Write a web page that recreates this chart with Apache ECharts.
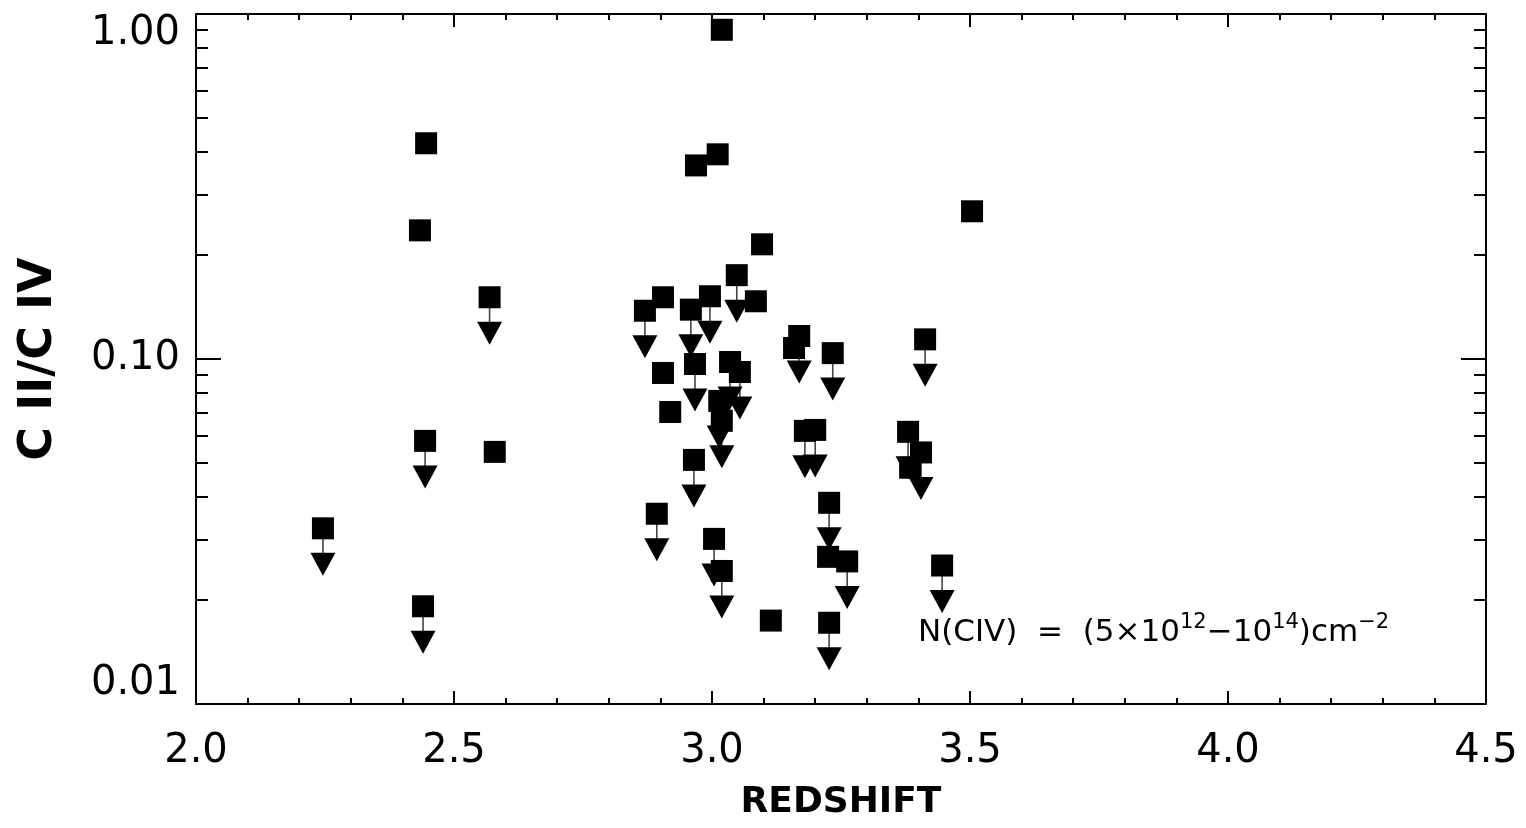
<!DOCTYPE html>
<html><head><meta charset="utf-8">
<script src="https://cdn.jsdelivr.net/npm/echarts@6/dist/echarts.min.js"></script>
<style>html,body{margin:0;padding:0;background:#fff}#chart{width:1526px;height:828px}</style>
</head><body><div id="chart"></div>
<script>
// Detections: C II / C IV ratio vs redshift
const detX = [3.019, 2.446, 3.011, 2.969, 3.504, 2.434, 3.097, 2.905, 3.085, 3.159, 2.905, 2.919, 3.384, 2.579, 3.114, 3.225];
const detY = [0.90, 0.422, 0.392, 0.364, 0.268, 0.236, 0.215, 0.151, 0.147, 0.1076, 0.0911, 0.0702, 0.0484, 0.0538, 0.01745, 0.0267];
// Upper limits
const limX = [3.048, 2.569, 2.870, 2.959, 2.996, 3.169, 3.234, 3.413, 2.967, 3.035, 3.054, 3.014, 3.019, 3.180, 3.200, 2.965, 3.380, 3.405, 2.893, 3.004, 3.019, 3.227, 3.262, 3.227, 2.444, 2.246, 2.440, 3.446];
const limY = [0.175, 0.151, 0.138, 0.139, 0.152, 0.1166, 0.104, 0.114, 0.0967, 0.098, 0.0917, 0.0756, 0.0662, 0.0619, 0.0623, 0.051, 0.0615, 0.0536, 0.0356, 0.0301, 0.0243, 0.0383, 0.0259, 0.0172, 0.0579, 0.0323, 0.0192, 0.0252];
// Axis ticks
const xMin = 2.0, xMax = 4.5, xStep = 0.5;
const yMajorTicks = [0.01, 0.1, 1];
const yMinorTicks = [0.02, 0.03, 0.04, 0.05, 0.06, 0.07, 0.08, 0.09, 0.2, 0.3, 0.4, 0.5, 0.6, 0.7, 0.8, 0.9];
const xTitle = 'REDSHIFT';
const yTitle = 'C II/C IV';
const noteParts = [['n', 'N(CIV)  =  (5×10'], ['s', '12'], ['n', '−10'], ['s', '14'], ['n', ')cm'], ['s', '−2']];

const FONT = 'DejaVu Sans';
const det = detX.map((x, i) => [x, detY[i]]);
const lim = limX.map((x, i) => [x, limY[i]]);

function yAxisBase(pos, ticks, len, showLine, showLabel) {
  return {
    type: 'log', logBase: 10, min: 0.01, max: 1, position: pos, gridIndex: 0,
    axisLine: { show: showLine, lineStyle: { color: '#000', width: 2 } },
    axisTick: { show: true, inside: true, length: len, customValues: ticks, lineStyle: { color: '#000', width: 2 } },
    axisLabel: showLabel ? {
      show: true, customValues: yMajorTicks, color: '#000', fontFamily: FONT, fontSize: 40, margin: 16,
      formatter: v => Number(v).toFixed(2),
      verticalAlignMaxLabel: 'top', verticalAlignMinLabel: 'bottom'
    } : { show: false },
    splitLine: { show: false }, minorTick: { show: false }
  };
}
function xAxisBase(pos, showLabel) {
  return {
    type: 'value', min: xMin, max: xMax, interval: xStep, position: pos, gridIndex: 0,
    axisLine: { show: true, lineStyle: { color: '#000', width: 2 } },
    axisTick: { show: true, inside: true, length: 13, lineStyle: { color: '#000', width: 2 } },
    minorTick: { show: true, splitNumber: 5, length: 6, lineStyle: { color: '#000', width: 2 } },
    axisLabel: showLabel ? { show: true, color: '#000', fontFamily: FONT, fontSize: 40, margin: 28, formatter: v => Number(v).toFixed(1) } : { show: false },
    splitLine: { show: false }, minorSplitLine: { show: false }
  };
}

const chart = echarts.init(document.getElementById('chart'), null, { renderer: 'canvas' });
const xa0 = xAxisBase('bottom', true);
Object.assign(xa0, { name: xTitle, nameLocation: 'middle', nameGap: 81,
  nameTextStyle: { color: '#000', fontFamily: FONT, fontWeight: 'bold', fontSize: 36 } });
const ya0 = yAxisBase('left', yMajorTicks, 25, true, true);
Object.assign(ya0, { name: yTitle, nameLocation: 'middle', nameGap: 134,
  nameTextStyle: { color: '#000', fontFamily: FONT, fontWeight: 'bold', fontSize: 46 } });

const noteText = noteParts.map(p => '{' + p[0] + '|' + p[1] + '}').join('');

chart.setOption({
  animation: false,
  backgroundColor: '#fff',
  grid: { left: 196, right: 40, top: 14, bottom: 124, containLabel: false, outerBoundsMode: 'none' },
  xAxis: [xa0, xAxisBase('top', false)],
  yAxis: [
    ya0,
    yAxisBase('left', yMinorTicks, 12, false, false),
    yAxisBase('right', yMajorTicks, 25, true, false),
    yAxisBase('right', yMinorTicks, 12, false, false)
  ],
  graphic: [{
    type: 'text', left: 918, top: 612,
    style: {
      text: noteText, fill: '#000', fontFamily: FONT, fontSize: 31,
      rich: {
        n: { fontFamily: FONT, fontSize: 31, lineHeight: 42, fill: '#000' },
        s: { fontFamily: FONT, fontSize: 21, lineHeight: 42, verticalAlign: 'top', fill: '#000' }
      }
    }
  }],
  series: [
    { type: 'scatter', name: 'stem', data: lim, xAxisIndex: 0, yAxisIndex: 0, symbol: 'rect', symbolSize: [1.6, 36], symbolOffset: [0, 18], itemStyle: { color: '#444', opacity: 1 }, silent: true, clip: false },
    { type: 'scatter', name: 'arrow', data: lim, xAxisIndex: 0, yAxisIndex: 0, symbol: 'path://M0 0L24 0L12 22Z', symbolSize: [25, 23], symbolOffset: [0, 36], itemStyle: { color: '#000', opacity: 1 }, silent: true, clip: false },
    { type: 'scatter', name: 'limit', data: lim, xAxisIndex: 0, yAxisIndex: 0, symbol: 'rect', symbolSize: 22, itemStyle: { color: '#000', opacity: 1 }, silent: true, clip: false },
    { type: 'scatter', name: 'detection', data: det, xAxisIndex: 0, yAxisIndex: 0, symbol: 'rect', symbolSize: 22, itemStyle: { color: '#000', opacity: 1 }, silent: true, clip: false }
  ]
});
</script>
</body></html>
